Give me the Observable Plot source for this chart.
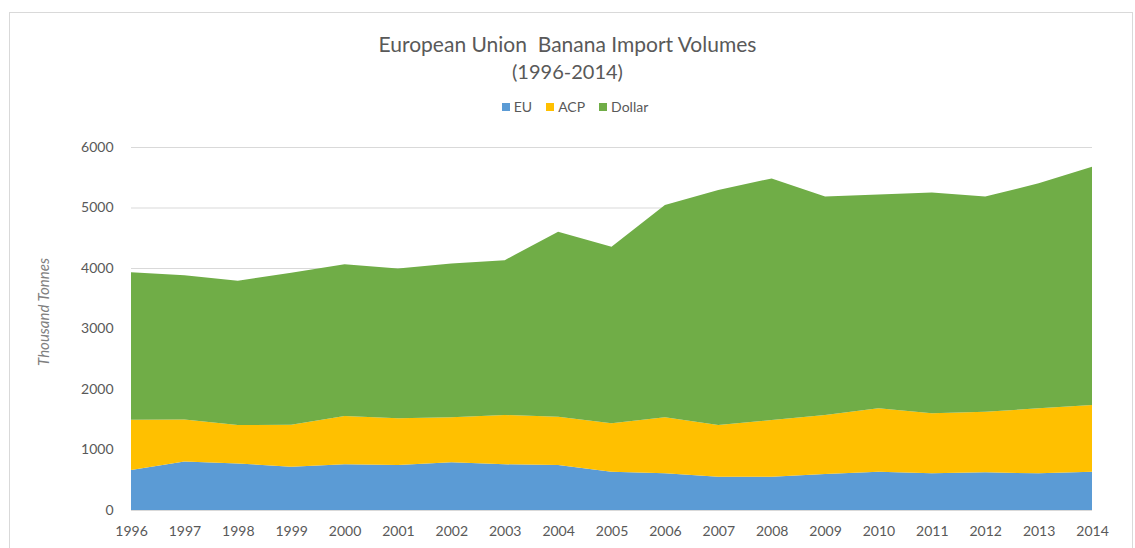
<!DOCTYPE html>
<html>
<head>
<meta charset="utf-8">
<script src="https://cdn.jsdelivr.net/npm/d3@7"></script>
<script src="https://cdn.jsdelivr.net/npm/@observablehq/plot@0.6"></script>
<style>
  html, body { margin: 0; padding: 0; background: #fff; width: 1135px; height: 548px; overflow: hidden; font-family: Lato, "Open Sans", sans-serif; }
  #frame { position: absolute; left: 9px; top: 12px; width: 1124px; height: 560px; border: 1px solid #d9d9d9; box-sizing: border-box; }
  .title { position: absolute; left: 0; width: 1135px; text-align: center; color: #595959; }
  #t1 { top: 31px; font-size: 21px; }
  #t2 { top: 59px; font-size: 20px; }
  #legend { position: absolute; top: 98px; left: 0; width: 1150px; display: flex; justify-content: center; gap: 14px; font-size: 14px; color: #595959; }
  #legend span.item { display: flex; align-items: center; gap: 4px; }
  #legend span.sw { width: 8px; height: 8px; display: inline-block; }
  #ylab { position: absolute; left: 43px; top: 312px; transform: translate(-50%, -50%) rotate(-90deg); font-style: italic; font-size: 15px; color: #7f7f7f; white-space: nowrap; }
  #chart { position: absolute; left: 0; top: 125px; }
</style>
</head>
<body>
<div id="frame"></div>
<div class="title" id="t1">European Union&nbsp; Banana Import Volumes</div>
<div class="title" id="t2">(1996-2014)</div>
<div id="legend"></div>
<div id="ylab">Thousand Tonnes</div>
<div id="chart"></div>
<script>
const years = [1996,1997,1998,1999,2000,2001,2002,2003,2004,2005,2006,2007,2008,2009,2010,2011,2012,2013,2014];
const seriesNames = ["EU", "ACP", "Dollar"];
const seriesColors = ["#5B9BD5", "#FFC000", "#70AD47"];
const euValues = [660,800,770,716,755,744,788,755,744,633,606,551,551,595,633,606,623,606,633];
const acpValues = [830,695,635,694,799,771,744,815,799,799,926,854,937,975,1047,992,1002,1074,1102];
const dollarValues = [2440,2385,2385,2510,2506,2475,2543,2560,3057,2918,3508,3885,3992,3610,3535,3652,3555,3720,3940];
const yTicks = [0,1000,2000,3000,4000,5000,6000];

const valuesBySeries = [euValues, acpValues, dollarValues];
const data = [];
seriesNames.forEach((s, i) => {
  years.forEach((y, j) => data.push({ year: y, series: s, value: valuesBySeries[i][j] }));
});

// legend
const lg = document.getElementById("legend");
seriesNames.forEach((s, i) => {
  const it = document.createElement("span");
  it.className = "item";
  it.innerHTML = `<span class="sw" style="background:${seriesColors[i]}"></span>${s}`;
  lg.appendChild(it);
});

const chart = Plot.plot({
  width: 1135,
  height: 423,
  marginLeft: 131,
  marginRight: 43,
  marginTop: 22,
  marginBottom: 38,
  style: { fontFamily: "Lato, 'Open Sans', sans-serif", fontSize: "14px", color: "#595959", background: "transparent" },
  x: { domain: [1996, 2014], label: null },
  y: { domain: [0, 6000], label: null },
  color: { domain: seriesNames, range: seriesColors },
  marks: [
    Plot.gridY(yTicks, { stroke: "#d9d9d9", strokeOpacity: 1 }),
    Plot.areaY(data, { x: "year", y: "value", z: "series", fill: "series", fillOpacity: 1, curve: "linear" }),
    Plot.axisX({ ticks: years, tickFormat: d => String(d), tickSize: 0, tickPadding: 16, fill: "#595959" }),
    Plot.axisY({ ticks: yTicks, tickFormat: d => String(d), tickSize: 0, tickPadding: 18, fill: "#595959" })
  ]
});
document.getElementById("chart").appendChild(chart);
</script>
</body>
</html>
